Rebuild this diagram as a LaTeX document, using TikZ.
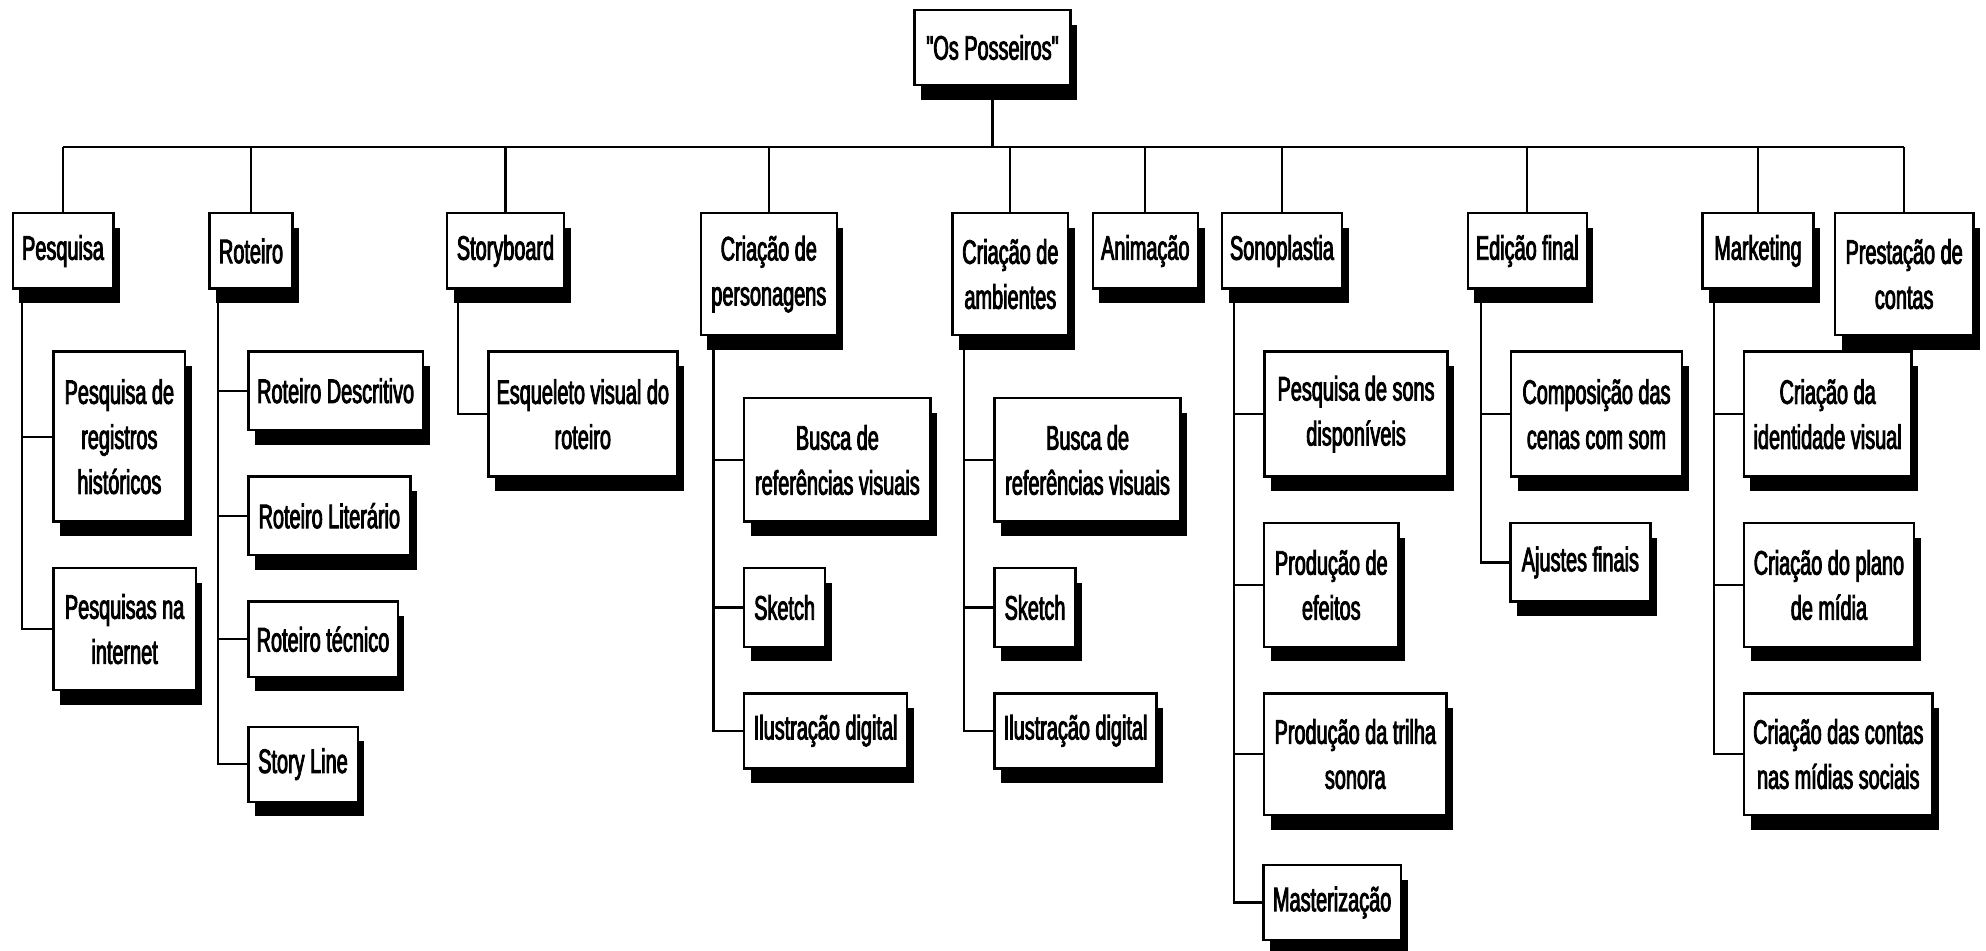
\documentclass[tikz,border=0pt]{standalone}
\usepackage{fontspec}
\newfontfamily\boxfont{Liberation Sans}[FakeStretch=0.585,FakeBold=2.5]
\usetikzlibrary{shadows}
\tikzset{
  box/.style={draw, line width=1.2pt, fill=white, inner sep=0pt, align=center,
    font=\boxfont\fontsize{17pt}{22.5pt}\selectfont,
    drop shadow={shadow xshift=3.3pt, shadow yshift=-7.3pt, fill=black, opacity=1}},
  link/.style={draw, line width=1.1pt}
}
\newcommand\bx[6]{\node[box, minimum width={(#4-#2)*0.5pt}, minimum height={(#5-#3)*0.5pt}] (#1) at ({(#2+#4)/2},{(#3+#5)/2}) {#6};}
\begin{document}
\begin{tikzpicture}[x=0.5pt,y=-0.5pt]
\path[use as bounding box, fill=white] (0,0) rectangle (1986,951);
% root
\bx{root}{914.6}{10}{1070.4}{85}{"Os Posseiros"}
% level 1
\bx{pes}{12.7}{213.3}{113.3}{288.7}{Pesquisa}
\bx{rot}{209.6}{213.3}{292.5}{288.7}{Roteiro}
\bx{sto}{447}{213.3}{564}{288.7}{Storyboard}
\bx{per}{700.8}{213.3}{836.8}{335}{Criação de\\personagens}
\bx{amb}{952.5}{213.3}{1068.2}{335}{Criação de\\ambientes}
\bx{ani}{1092.7}{213.3}{1197.9}{288.7}{Animação}
\bx{son}{1221.9}{213.3}{1342}{288.7}{Sonoplastia}
\bx{edi}{1467.8}{213.3}{1586.8}{288.7}{Edição final}
\bx{mkt}{1702.3}{213.3}{1813.6}{288.7}{Marketing}
\bx{pre}{1834.9}{213.3}{1973.4}{335}{Prestação de\\contas}
% level 2
\bx{hist}{53.5}{351.7}{185.2}{521.7}{Pesquisa de\\registros\\históricos}
\bx{inter}{53.5}{568.3}{195.7}{690}{Pesquisas na\\internet}
\bx{rdes}{248.3}{351.7}{423}{430}{Roteiro Descritivo}
\bx{rlit}{248.3}{476.7}{410.4}{555}{Roteiro Literário}
\bx{rtec}{248.3}{601.7}{397.7}{676.7}{Roteiro técnico}
\bx{rsl}{248.3}{726.7}{357.7}{801.7}{Story Line}
\bx{esq}{488.3}{351.7}{677.3}{476.7}{Esqueleto visual do\\roteiro}
\bx{pbus}{744.2}{398.3}{930.6}{521.7}{Busca de\\referências visuais}
\bx{psk}{744.2}{568.3}{825}{646.7}{Sketch}
\bx{pil}{744.2}{693.3}{907}{768.3}{Ilustração digital}
\bx{abus}{994.6}{398.3}{1180.6}{521.7}{Busca de\\referências visuais}
\bx{ask}{994.6}{568.3}{1075.4}{646.7}{Sketch}
\bx{ail}{994.6}{693.3}{1156.6}{768.3}{Ilustração digital}
\bx{sps}{1264.5}{351.7}{1447.6}{476.7}{Pesquisa de sons\\disponíveis}
\bx{spe}{1264}{523.3}{1398.6}{646.7}{Produção de\\efeitos}
\bx{spt}{1264}{693.3}{1446.6}{815}{Produção da trilha\\sonora}
\bx{sma}{1263.3}{865}{1401}{940}{Masterização}
\bx{ecs}{1511}{351.7}{1682}{476.7}{Composição das\\cenas com som}
\bx{eaj}{1510.3}{523.3}{1650.5}{601.7}{Ajustes finais}
\bx{mid}{1743.8}{351.7}{1911.5}{476.7}{Criação da\\identidade visual}
\bx{mpl}{1744}{523.3}{1913.9}{646.7}{Criação do plano\\de mídia}
\bx{mco}{1744}{693.3}{1932.6}{815}{Criação das contas\\nas mídias sociais}
% bus
\coordinate (busL) at (63,146.7);
\coordinate (busR) at (1904.2,146.7);
\draw[link] (busL) -- (busR);
\draw[link] (root.south) -- (root.south |- busL);
\foreach \n in {pes,rot,sto,per,amb,ani,son,edi,mkt,pre}
  \draw[link] (\n.north) -- (\n.north |- busL);
% trunks
\coordinate (pesT) at (22.3,288.7);
\coordinate (rotT) at (217.6,288.7);
\coordinate (stoT) at (458,288.7);
\coordinate (perT) at (713.5,335);
\coordinate (ambT) at (964.3,335);
\coordinate (sonT) at (1233.7,288.7);
\coordinate (ediT) at (1480.8,288.7);
\coordinate (mktT) at (1714.2,288.7);
\foreach \c in {hist,inter} \draw[link] (pesT) |- (\c.west);
\foreach \c in {rdes,rlit,rtec,rsl} \draw[link] (rotT) |- (\c.west);
\draw[link] (stoT) |- (esq.west);
\foreach \c in {pbus,psk,pil} \draw[link] (perT) |- (\c.west);
\foreach \c in {abus,ask,ail} \draw[link] (ambT) |- (\c.west);
\foreach \c in {sps,spe,spt,sma} \draw[link] (sonT) |- (\c.west);
\foreach \c in {ecs,eaj} \draw[link] (ediT) |- (\c.west);
\foreach \c in {mid,mpl,mco} \draw[link] (mktT) |- (\c.west);
\end{tikzpicture}
\end{document}
